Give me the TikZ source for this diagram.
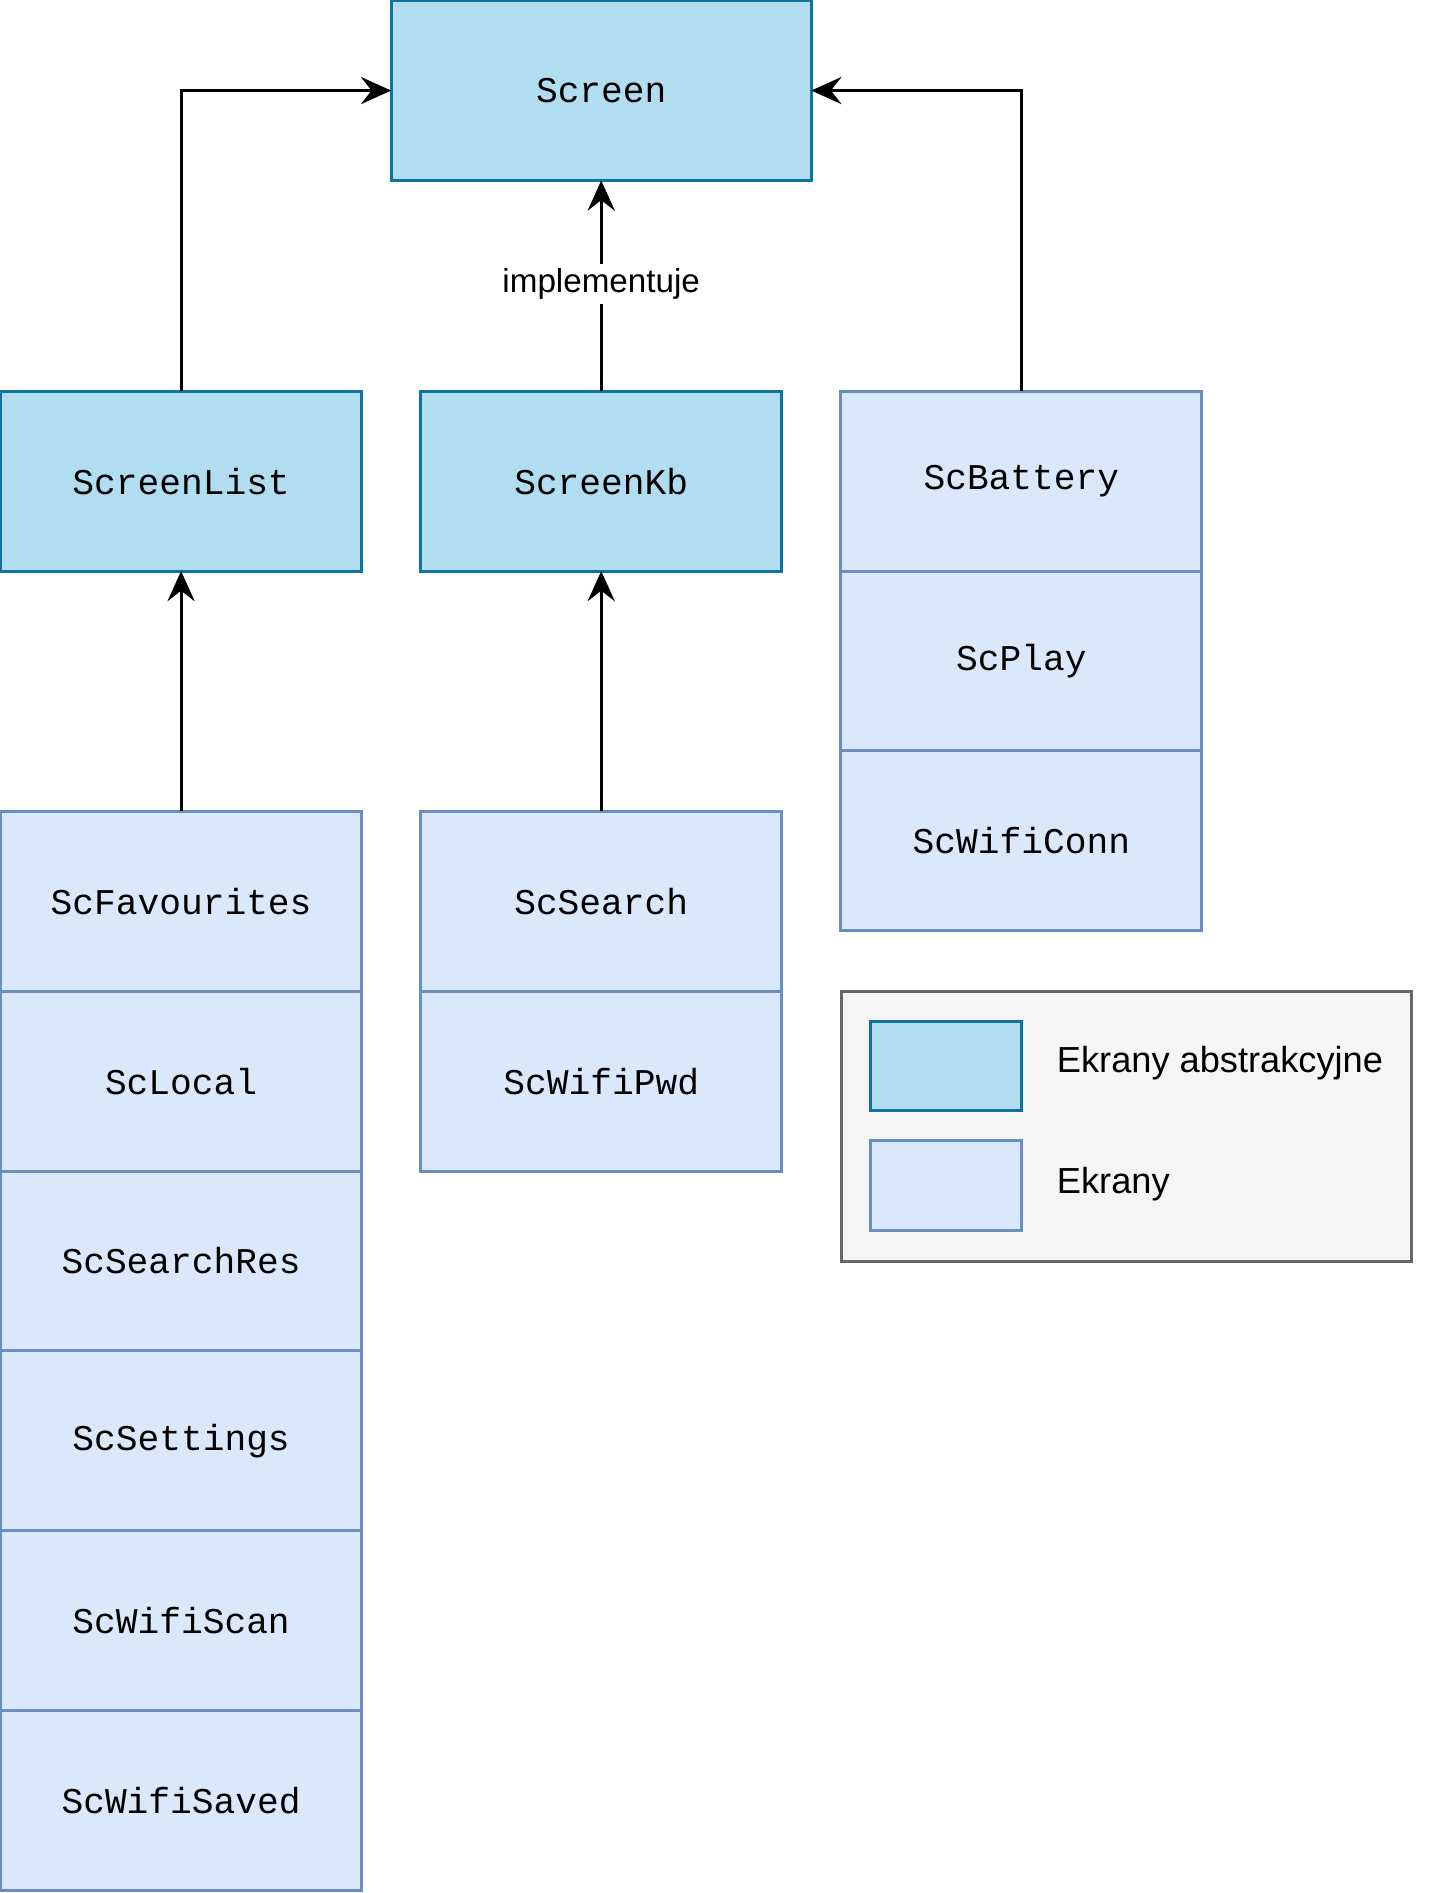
\documentclass[tikz,border=0pt]{standalone}
\usepackage{fontspec}
\setmainfont{Liberation Sans}
\setmonofont{Liberation Mono}
\usetikzlibrary{arrows.meta}
\definecolor{absfill}{HTML}{B1DDF0}
\definecolor{absline}{HTML}{10739E}
\definecolor{scrfill}{HTML}{DAE8FC}
\definecolor{scrline}{HTML}{6C8EBF}
\definecolor{legfill}{HTML}{F5F5F5}
\definecolor{legline}{HTML}{666666}

\begin{document}
\begin{tikzpicture}[x=0.4pt, y=-0.4pt,
    box/.style={draw, line width=1pt, inner sep=0pt, outer sep=0pt, minimum width=119.6pt, minimum height=59.6pt, font=\ttfamily\fontsize{12}{14}\selectfont},
    abstr/.style={box, fill=absfill, draw=absline},
    scr/.style={box, fill=scrfill, draw=scrline},
    arr/.style={-{Stealth[length=10pt, width=9pt, inset=3.5pt]}, line width=1pt}]
    \useasboundingbox (0,0) rectangle (1195,1568);
    % abstract screens
    \node[abstr, minimum width=139.2pt] (screen) at (498,75) {Screen};
    \node[abstr] (slist) at (150,398.5) {ScreenList};
    \node[abstr] (skb) at (498,398.5) {ScreenKb};
    % screens
    \node[scr] (sbatt) at (846,398.5) {ScBattery};
    \node[scr] (splay) at (846,547.5) {ScPlay};
    \node[scr] (swconn) at (846,696.5) {ScWifiConn};
    \node[scr] (sfav) at (150,746.5) {ScFavourites};
    \node[scr] (slocal) at (150,895.5) {ScLocal};
    \node[scr] (ssres) at (150,1044.5) {ScSearchRes};
    \node[scr] (ssett) at (150,1193.5) {ScSettings};
    \node[scr] (swscan) at (150,1342.5) {ScWifiScan};
    \node[scr] (swsaved) at (150,1491.5) {ScWifiSaved};
    \node[scr] (ssearch) at (498,746.5) {ScSearch};
    \node[scr] (swpwd) at (498,895.5) {ScWifiPwd};
    % legend
    \node[draw=legline, fill=legfill, line width=1pt, inner sep=0pt, minimum width=188.8pt, minimum height=89.6pt] (legend) at (933,933) {};
    \node[draw=absline, fill=absfill, line width=1pt, inner sep=0pt, minimum width=50pt, minimum height=29.6pt] (legabs) at (783.5,883) {};
    \node[draw=scrline, fill=scrfill, line width=1pt, inner sep=0pt, minimum width=50pt, minimum height=29.6pt] (legscr) at (783.5,982) {};
    \node[anchor=west, inner sep=0pt, font=\fontsize{12}{14}\selectfont] (labs) at (875,881) {Ekrany abstrakcyjne};
    \node[anchor=west, inner sep=0pt, font=\fontsize{12}{14}\selectfont] (lscr) at (875,981) {Ekrany};
    % arrows
    \draw[arr] (slist.north) |- (screen.west);
    \draw[arr] (sbatt.north) |- (screen.east);
    \draw[arr] (skb.north) -- node[pos=0.51, fill=white, inner sep=1.5pt, font=\fontsize{11}{13}\selectfont] {implementuje} (screen.south);
    \draw[arr] (sfav.north) -- (slist.south);
    \draw[arr] (ssearch.north) -- (skb.south);
\end{tikzpicture}
\end{document}
